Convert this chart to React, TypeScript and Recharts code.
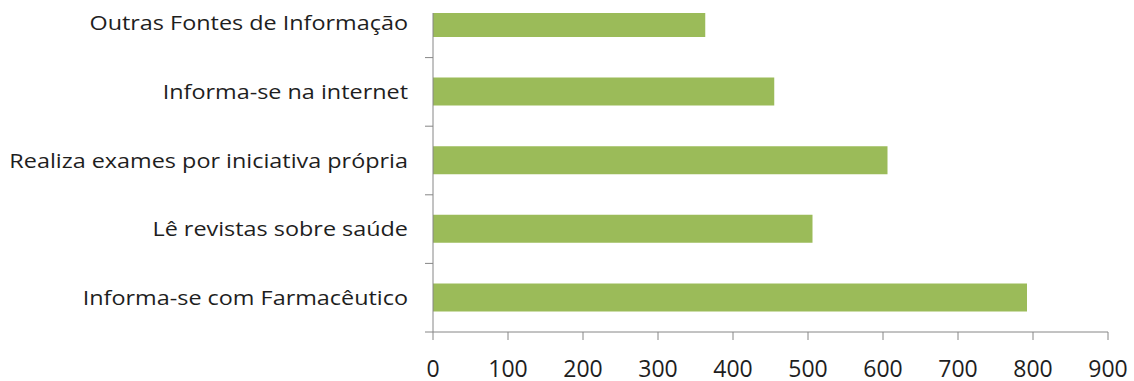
import { Bar, BarChart, XAxis, YAxis } from "recharts";

const categories = [
  "Outras Fontes de Informação",
  "Informa-se na internet",
  "Realiza exames por iniciativa própria",
  "Lê revistas sobre saúde",
  "Informa-se com Farmacêutico",
];
const counts = [363, 455, 606, 506, 792];
const xTicks = [0, 100, 200, 300, 400, 500, 600, 700, 800, 900];

const data = categories.map((name, i) => ({ name, value: counts[i] }));

const CHART_W = 1134;
const CHART_H = 393;
const AXIS_W = 433;
const PLOT_H = 343;
const BAND = PLOT_H / categories.length;
const AXIS_COLOR = "#868686";
const TEXT_COLOR = "#1e1e1e";
const FONT = "'Open Sans', sans-serif";
// category labels are set a little wider than the font's natural width
const LABEL_STRETCH = 1.17;

// category label plus the small divider tick between bands (Excel style)
const CategoryTick = (props: any) => {
  const { y, payload } = props;
  return (
    <g>
      <line
        x1={AXIS_W - 8}
        x2={AXIS_W}
        y1={y + BAND / 2}
        y2={y + BAND / 2}
        stroke={AXIS_COLOR}
      />
      <text
        transform={`translate(${AXIS_W - 25},${y}) scale(${LABEL_STRETCH},1)`}
        dy="0.355em"
        textAnchor="end"
        fill={TEXT_COLOR}
        fontSize={20}
        fontFamily={FONT}
      >
        {payload.value}
      </text>
    </g>
  );
};

export default function App() {
  return (
    <div
      style={{
        position: "absolute",
        left: 0,
        top: 13,
        width: CHART_W,
        height: 368,
        overflow: "hidden",
        background: "#fff",
      }}
    >
      <div style={{ position: "relative", top: -24 }}>
        <BarChart
          width={CHART_W}
          height={CHART_H}
          data={data}
          layout="vertical"
          margin={{ top: 0, right: 26, left: 0, bottom: 0 }}
        >
          <XAxis
            type="number"
            domain={[0, 900]}
            ticks={xTicks}
            interval={0}
            height={50}
            stroke={AXIS_COLOR}
            tickSize={8}
            tickMargin={21}
            tick={{ fill: TEXT_COLOR, fontSize: 23, fontFamily: FONT }}
          />
          <YAxis
            type="category"
            dataKey="name"
            width={AXIS_W}
            stroke={AXIS_COLOR}
            tickLine={false}
            tick={<CategoryTick />}
            interval={0}
          />
          <Bar
            dataKey="value"
            fill="#9BBB59"
            barSize={28}
            isAnimationActive={false}
          />
        </BarChart>
      </div>
    </div>
  );
}
